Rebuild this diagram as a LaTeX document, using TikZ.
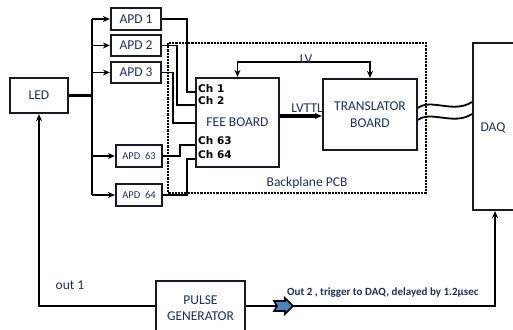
\documentclass[tikz,border=0pt]{standalone}
\usepackage{fontspec}
\setmainfont{Carlito}
\newfontfamily\chfont{DejaVu Sans}
\usetikzlibrary{arrows.meta}
\definecolor{txtblue}{HTML}{1F3055}
\definecolor{boxline}{HTML}{1A1A24}
\definecolor{tipblue}{HTML}{4F81BD}
\tikzset{
	blk/.style={draw=boxline, line width=2.2pt, fill=white, text=txtblue, font=\fontsize{13.5}{15}\selectfont, align=center, inner sep=0pt},
	apd/.style={blk, minimum width=50, minimum height=22},
	apdsmall/.style={blk, minimum width=46, minimum height=22, font=\fontsize{10.5}{12}\selectfont},
	wire/.style={line width=1.8pt, line join=miter},
	chlab/.style={anchor=west, inner sep=0pt, font=\chfont\bfseries\fontsize{10.5}{12}\selectfont},
	lab/.style={inner sep=0pt, text=txtblue, font=\fontsize{13.5}{15}\selectfont}
}
\begin{document}
\begin{tikzpicture}[x=1pt, y=-1pt, >={Stealth[length=7pt, width=6pt]}]
		\useasboundingbox (0,0) rectangle (513,329);
		\draw[line width=2.2pt, densely dotted] (168,43) rectangle (426,193);
		\node[lab] (pcb) at (307,183) {Backplane PCB};
		\node[blk, minimum width=58, minimum height=35] (led) at (39,95.5) {LED};
		\node[apd] (apd1) at (136,19) {APD 1};
		\node[apd, minimum height=21] (apd2) at (136,45.5) {APD 2};
		\node[apd, minimum height=21] (apd3) at (136,72.5) {APD 3};
		\node[apdsmall] (apd63) at (139,156) {APD\ \ 63};
		\node[apdsmall] (apd64) at (139,195) {APD\ \ 64};
		\node[blk, minimum width=83, minimum height=89] (fee) at (237.5,122.5) {FEE BOARD};
		\node[chlab] (ch1) at (198,89) {Ch 1};
		\node[chlab] (ch2) at (198,101) {Ch 2};
		\node[chlab] (ch63) at (198,141) {Ch 63};
		\node[chlab] (ch64) at (198,155) {Ch 64};
		\node[blk, minimum width=94, minimum height=71] (trans) at (370,114.5) {TRANSLATOR\\[2pt]BOARD};
		\node[blk, minimum width=44, minimum height=167] (daq) at (495,126.5) {};
		\node[lab] (daqlab) at (493,128) {DAQ};
		\node[blk, minimum width=89, minimum height=54] (pg) at (200.5,308) {PULSE\\[1pt]GENERATOR};
		% LED bus
		\coordinate (busmid) at (92,95.5);
		\coordinate (bustop) at (92,19);
		\coordinate (busbot) at (92,195);
		\draw[line width=3.5pt] (led.east) -- (busmid);
		\draw[wire] (bustop) -- (busbot);
		\foreach \n in {apd1,apd2,apd3,apd63,apd64}
			\draw[wire,->] (\n.west -| bustop) -- (\n.west);
		\foreach \n/\x/\y in {apd1/187/92, apd2/177/105, apd3/173/123, apd63/180/145, apd64/187/159}
			\draw[wire] (\n.east) -| (\x,\y) -- (fee.west |- 0,\y);
		\draw[wire,<->] (fee.north) -- ++(0,-15) -| (trans.north);
		\node[lab] (lv) at (306,59) {LV};
		\draw[line width=3.5pt,->] (fee.east |- 0,116) -- (trans.west |- 0,116);
		\node[lab, anchor=south east] (lvttl) at (323,113) {LVTTL};
		\draw[wire] (trans.east |- 0,108) .. controls (430,98) and (454,114) .. (daq.west |- 0,102);
		\draw[wire] (trans.east |- 0,120) .. controls (430,110) and (454,126) .. (daq.west |- 0,114);
		\draw[wire,->] (pg.west |- 0,306) -| (led.south);
		\node[lab] (out1) at (70,285) {out 1};
		\draw[wire,->] (pg.east |- 0,306) -| (daq.south);
		\draw[line width=1.6pt, fill=tipblue, line join=miter] (274,301) -- (285,301) -- (285,298) -- (293,306) -- (285,314) -- (285,311) -- (274,311) -- (277,306) -- cycle;
		\node[lab, anchor=west, font=\bfseries\fontsize{11}{13}\selectfont] (out2) at (287,293) {Out 2 , trigger to DAQ, delayed by 1.2μsec};
\end{tikzpicture}
\end{document}
